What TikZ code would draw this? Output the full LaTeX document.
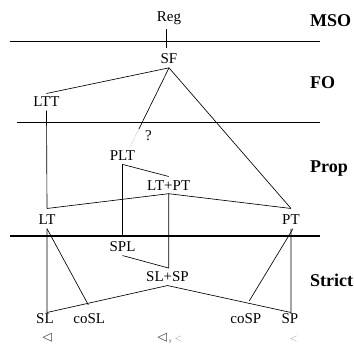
\documentclass[tikz,border=0pt]{standalone}
\usepackage{amssymb}
\usepackage{fontspec}
\setmainfont{Liberation Serif}
\usetikzlibrary{calc}
\begin{document}
\begin{tikzpicture}[x=1pt,y=-1pt,
  lbl/.style={font=\fontsize{15}{18}\selectfont, inner xsep=2pt, inner ysep=3.5pt, anchor=base},
  lev/.style={font=\fontsize{18}{21}\selectfont\bfseries, anchor=base west, inner sep=0pt},
  symb/.style={font=\fontsize{15}{18}\selectfont, inner sep=0pt, anchor=base, text=black!80},
  sep/.style={line width=1.3pt},
  con/.style={line width=0.65pt},
  unsure/.style={line width=0.65pt, gray!60, dash pattern=on 1pt off 1.2pt}
]
\useasboundingbox (0,0) rectangle (354,353);

% level separators
\draw[sep] (10,41.7) -- (320,41.7);
\draw[sep] (16.7,122.3) -- (320,122.3);
\draw[sep] (10,236) -- (320,236);

% level names
\node[lev] (MSO) at (310,26.7) {MSO};
\node[lev] (FO) at (310,88.3) {FO};
\node[lev] (Prop) at (310,172) {Prop};
\node[lev] (Strict) at (310,286.7) {Strict};

% classes
\node[lbl] (Reg) at (169,22) {Reg};
\node[lbl] (SF) at (169,64) {SF};
\node[lbl] (LTT) at (46.5,107) {LTT};
\node[lbl] (q) at (148.5,140.7) {?};
\node[lbl] (PLT) at (122.5,160.7) {PLT};
\node[lbl] (LTPT) at (168.7,190) {LT+PT};
\node[lbl] (LT) at (47,225) {LT};
\node[lbl] (PT) at (291,225) {PT};
\node[lbl] (SPL) at (122.5,251.7) {SPL};
\node[lbl] (SLSP) at (167.5,281.7) {SL+SP};
\node[lbl] (SL) at (45,323.5) {SL};
\node[lbl] (coSL) at (89.3,323.5) {coSL};
\node[lbl] (coSP) at (245.8,323.5) {coSP};
\node[lbl] (SP) at (290,323.5) {SP};

% relations
\node[symb] (r1) at (47.5,341.5) {$\lhd$};
\node[symb, anchor=base west] (r2) at (156.5,341.5) {$\lhd${\color{gray!80},\,\fontsize{10}{12}\selectfont$<$}};
\node[symb, text=gray!80, font=\fontsize{10}{12}\selectfont] (r3) at (293.7,341.5) {$<$};

% connectors
\draw[con] ([xshift=-3pt]Reg.south) -- ([xshift=-3pt,yshift=2pt]SF.north);
\draw[con] (SF.south) -- (LTT.north);
\draw[con] (SF.south) -- ([yshift=3pt]PT.north);
\coordinate (plttop) at ([xshift=7.5pt]PLT.north);
\coordinate (mid) at ($(SF.south)!0.77!(plttop)$);
\draw[con] (SF.south) -- (mid);
\draw[unsure] (mid) -- (plttop);
\draw[con] (LTT.south) -- ([yshift=3pt]LT.north);
\draw[con] ([yshift=3pt]LT.north) -- (LTPT.south) -- ([yshift=3pt]PT.north);
\draw[con] (PLT.south) -- (LTPT.north);
\draw[con] (PLT.south) -- (PLT.south |- 0,236);
\draw[con] (SPL.south) -- (LTPT.south |- SLSP.north) -- (LTPT.south);
\draw[con] (LT.south) -- (LT.south |- 0,312.5) -- (SLSP.south) -- (PT.south |- 0,312.5) -- (PT.south);
\draw[con] (LT.south) -- ([xshift=-1pt,yshift=5pt]coSL.north);
\draw[con] ([xshift=2pt]PT.south) -- ([xshift=3.5pt,yshift=9pt]coSP.north);
\end{tikzpicture}
\end{document}
